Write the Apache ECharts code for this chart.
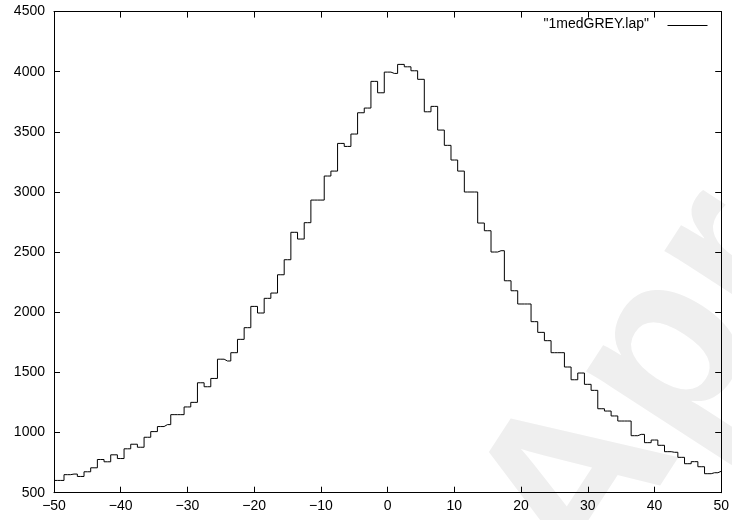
<!DOCTYPE html>
<html>
<head>
<meta charset="utf-8">
<script src="https://cdn.jsdelivr.net/npm/echarts@6/dist/echarts.min.js"></script>
<style>html,body{margin:0;padding:0;background:#fff;}#chart{width:732px;height:520px;}</style>
</head>
<body>
<div id="chart"></div>
<script>
// Bin centres (x) and counts (y)
const binX = [-50,-49,-48,-47,-46,-45,-44,-43,-42,-41,-40,-39,-38,-37,-36,-35,-34,-33,-32,-31,
  -30,-29,-28,-27,-26,-25,-24,-23,-22,-21,-20,-19,-18,-17,-16,-15,-14,-13,-12,-11,
  -10,-9,-8,-7,-6,-5,-4,-3,-2,-1,0,1,2,3,4,5,6,7,8,9,
  10,11,12,13,14,15,16,17,18,19,20,21,22,23,24,25,26,27,28,29,
  30,31,32,33,34,35,36,37,38,39,40,41,42,43,44,45,46,47,48,49,50];
const counts = [602,602,650,655,635,674,707,776,757,815,784,865,903,878,961,1008,1050,1066,1149,1149,
  1213,1251,1414,1381,1450,1610,1595,1664,1775,1872,2049,1994,2116,2160,2312,2437,2665,2609,2745,2933,
  2933,3133,3174,3404,3379,3482,3659,3698,3920,3825,3997,3986,4061,4041,4008,3937,3667,3712,3515,3388,
  3266,3174,3000,3000,2742,2678,2501,2512,2262,2179,2069,2069,1922,1833,1764,1664,1664,1545,1439,1495,
  1401,1351,1198,1179,1138,1096,1096,974,985,916,938,894,841,836,794,741,758,716,658,666,678];
const xTicks = {min:-50, max:50, interval:10};
const yTicks = {min:500, max:4500, interval:500};
const seriesName = '"1medGREY.lap"';
const watermarkText = 'Apr';

const FONT = 'Liberation Sans';
const FS = 14;
const chart = echarts.init(document.getElementById('chart'), null, {renderer:'canvas'});
const axisCommon = {
  axisLine:{show:true, onZero:false, lineStyle:{color:'#000', width:1}},
  axisTick:{show:true, inside:true, length:6, lineStyle:{color:'#000', width:1}},
  splitLine:{show:false}
};
const em = 235, th = 57*Math.PI/180;
chart.setOption({
  animation:false,
  backgroundColor:'#fff',
  graphic:[
    {type:'text', x:604, y:604, rotation:th, z:-10, silent:true,
      style:{text:watermarkText, x:0, y:-0.35*em, fill:'#efefef',
        font:'bold '+em+'px "Liberation Sans"', verticalAlign:'middle', align:'left'}},
    {type:'text', x:649, y:24.5, z:10, silent:true,
      style:{text:seriesName, fill:'#000', font:FS+'px "Liberation Sans"', align:'right', verticalAlign:'middle'}},
    {type:'line', z:10, silent:true, shape:{x1:667.5, y1:25.5, x2:707.5, y2:25.5},
      style:{stroke:'#000', lineWidth:1}}
  ],
  grid:{left:54, right:7, top:11.6, bottom:27.3, containLabel:false},
  xAxis:[
    Object.assign({type:'value', position:'bottom', min:xTicks.min, max:xTicks.max, interval:xTicks.interval,
      axisLabel:{show:true, color:'#000', fontFamily:FONT, fontSize:FS, margin:6,
        formatter:function(v){ return v<0 ? '\u2212'+Math.abs(v) : String(v); }}}, axisCommon),
    Object.assign({type:'value', position:'top', min:xTicks.min, max:xTicks.max, interval:xTicks.interval,
      axisLabel:{show:false}}, axisCommon)
  ],
  yAxis:[
    Object.assign({type:'value', position:'left', min:yTicks.min, max:yTicks.max, interval:yTicks.interval,
      axisLabel:{show:true, color:'#000', fontFamily:FONT, fontSize:FS, margin:9,
        formatter:function(v){ return String(v); }}}, axisCommon),
    Object.assign({type:'value', position:'right', min:yTicks.min, max:yTicks.max, interval:yTicks.interval,
      axisLabel:{show:false}}, axisCommon)
  ],
  series:[{
    name:seriesName, type:'line', step:'middle', showSymbol:false, symbol:'none',
    xAxisIndex:0, yAxisIndex:0,
    data:binX.map((x,i)=>[x, counts[i]]),
    lineStyle:{color:'#000', width:1}, itemStyle:{color:'#000'}
  }]
});
</script>
</body>
</html>
